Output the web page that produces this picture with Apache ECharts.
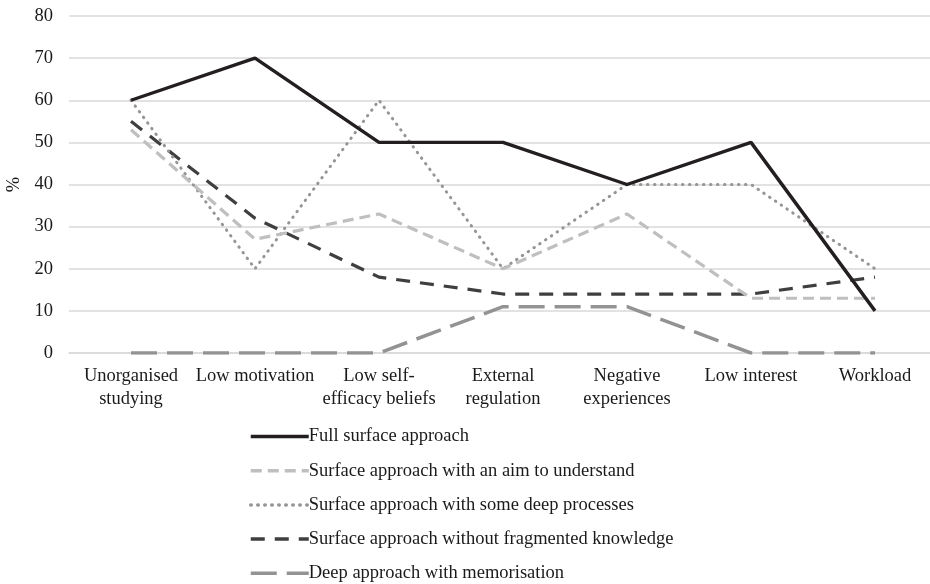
<!DOCTYPE html>
<html><head><meta charset="utf-8">
<script src="https://cdn.jsdelivr.net/npm/echarts@6/dist/echarts.min.js"></script>
<style>html,body{margin:0;padding:0;background:#fff}#c{width:930px;height:584px}</style>
</head><body><div id="c"></div>
<script>
const categories = ["Unorganised\nstudying", "Low motivation", "Low self-\nefficacy beliefs", "External\nregulation", "Negative\nexperiences", "Low interest", "Workload"];
const seriesNames = ["Full surface approach", "Surface approach with an aim to understand", "Surface approach with some deep processes", "Surface approach without fragmented knowledge", "Deep approach with memorisation"];
const fullSurface = [60, 70, 50, 50, 40, 50, 10];
const aimUnderstand = [53, 27, 33, 20, 33, 13, 13];
const someDeep = [60, 20, 60, 20, 40, 40, 20];
const withoutFragmented = [55, 32, 18, 14, 14, 14, 18];
const deepMemorisation = [0, 0, 0, 11, 11, 0, 0];
const yTicks = [0, 10, 20, 30, 40, 50, 60, 70, 80];

const FONT = "Liberation Serif";
const FS = 18.5;
const styles = [
  {color: "#231f20", width: 3.4, type: "solid"},
  {color: "#bfbfbf", width: 3.2, type: [11, 6]},
  {color: "#959595", width: 3, type: [0.5, 6.5], cap: "round"},
  {color: "#3f3f3f", width: 3.2, type: [14, 10]},
  {color: "#939393", width: 3.5, type: [26, 10]}
];
const dataArr = [fullSurface, aimUnderstand, someDeep, withoutFragmented, deepMemorisation];

const chart = echarts.init(document.getElementById('c'), null, {renderer: 'canvas'});
chart.setOption({
  animation: false,
  backgroundColor: '#fff',
  textStyle: {fontFamily: FONT},
  grid: {left: 69, width: 868, top: 16, bottom: 231, containLabel: false, outerBoundsMode: 'none'},
  xAxis: {
    type: 'category',
    data: categories,
    boundaryGap: true,
    axisLine: {show: true, lineStyle: {color: '#d9d9d9', width: 1.5}},
    axisTick: {show: false},
    axisLabel: {color: '#1a1a1a', fontFamily: FONT, fontSize: FS, lineHeight: 23, margin: 12, interval: 0}
  },
  yAxis: {
    type: 'value',
    min: yTicks[0], max: yTicks[yTicks.length - 1], interval: 10,
    name: '%', nameLocation: 'middle', nameGap: 42, nameRotate: 90,
    nameTextStyle: {color: '#1a1a1a', fontFamily: FONT, fontSize: FS},
    axisLine: {show: false}, axisTick: {show: false},
    axisLabel: {color: '#1a1a1a', fontFamily: FONT, fontSize: FS, margin: 16},
    splitLine: {lineStyle: {color: '#d9d9d9', width: 1.5}}
  },
  legend: {
    orient: 'vertical', left: 244, top: 422, height: 200,
    itemWidth: 58, itemHeight: 14, itemGap: 15.2,
    data: seriesNames,
    itemStyle: {opacity: 0},
    lineStyle: {width: 3.5},
    textStyle: {color: '#1a1a1a', fontFamily: FONT, fontSize: FS, padding: [0,0,0,-5]}
  },
  series: seriesNames.map((n, i) => ({
    name: n, type: 'line', data: dataArr[i], symbol: 'none',
    lineStyle: {color: styles[i].color, width: styles[i].width, type: styles[i].type, cap: styles[i].cap || 'butt'},
    itemStyle: {color: styles[i].color},
    z: 10 - i
  }))
});
</script></body></html>
